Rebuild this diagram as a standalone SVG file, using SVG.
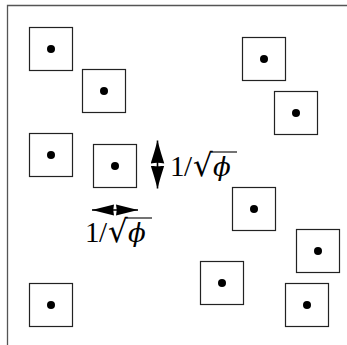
<svg xmlns="http://www.w3.org/2000/svg" width="347" height="345" viewBox="0 0 347 345">
<style>
.frame{fill:none;stroke:#555;stroke-width:1.3}
.box rect{fill:#fff;stroke:#222;stroke-width:1.2}
.box circle{fill:#000}
.arr{stroke:#000;stroke-width:1.6;fill:none}
.v{marker-start:url(#headv);marker-end:url(#headv)}
.h{marker-start:url(#headh);marker-end:url(#headh)}
.lbl{font-family:"Liberation Serif","DejaVu Serif",serif;font-size:29px;fill:#000}
.rad{font-family:"DejaVu Serif",serif;font-size:31px}
.phi{font-family:"DejaVu Serif",serif;font-style:italic;font-size:26px}
.bar{stroke:#000;stroke-width:1.1}
</style>
<defs>
<marker id="headv" viewBox="0 -7 23 14" refX="23" refY="0" markerWidth="23" markerHeight="14" markerUnits="userSpaceOnUse" orient="auto-start-reverse">
<path d="M0,-6.8 Q10,-3.5 23,0 Q10,3.5 0,6.8 Q1.5,0 0,-6.8 Z" fill="#000"/>
</marker>
<marker id="headh" viewBox="0 -6 22 12" refX="22" refY="0" markerWidth="22" markerHeight="12" markerUnits="userSpaceOnUse" orient="auto-start-reverse">
<path d="M0,-5.5 Q10,-3 22,0 Q10,3 0,5.5 Q1.5,0 0,-5.5 Z" fill="#000"/>
</marker>
</defs>
<path class="frame" d="M7.5,345 V5.5 H347"/>
<g id="n1" class="box"><rect x="29.5" y="27.5" width="43" height="43"/><circle cx="51" cy="49" r="4"/></g>
<g id="n2" class="box"><rect x="82.5" y="69.5" width="43" height="43"/><circle cx="104" cy="91" r="4"/></g>
<g id="n3" class="box"><rect x="242.5" y="37.5" width="43" height="43"/><circle cx="264" cy="59" r="4"/></g>
<g id="n4" class="box"><rect x="274.5" y="91.5" width="43" height="43"/><circle cx="296" cy="113" r="4"/></g>
<g id="n5" class="box"><rect x="29.5" y="133.5" width="43" height="43"/><circle cx="51" cy="155" r="4"/></g>
<g id="n6" class="box"><rect x="93.5" y="144.5" width="43" height="43"/><circle cx="115" cy="166" r="4"/></g>
<g id="n7" class="box"><rect x="232.5" y="187.5" width="43" height="43"/><circle cx="254" cy="209" r="4"/></g>
<g id="n8" class="box"><rect x="296.5" y="229.5" width="43" height="43"/><circle cx="318" cy="251" r="4"/></g>
<g id="n9" class="box"><rect x="200.5" y="261.5" width="43" height="43"/><circle cx="222" cy="283" r="4"/></g>
<g id="n10" class="box"><rect x="285.5" y="283.5" width="43" height="43"/><circle cx="307" cy="305" r="4"/></g>
<g id="n11" class="box"><rect x="29.5" y="283.5" width="43" height="43"/><circle cx="51" cy="305" r="4"/></g>
<g id="connectors">
<line class="arr v" x1="157.5" y1="140.5" x2="157.5" y2="188.5"/>
<line class="arr h" x1="92" y1="210" x2="138" y2="210"/>
</g>
<g id="label-v">
<text class="lbl" y="176"><tspan x="170">1</tspan><tspan x="184">/</tspan><tspan class="rad" x="193">√</tspan><tspan class="phi" x="213">ϕ</tspan></text>
<line class="bar" x1="211" y1="152" x2="237" y2="152"/>
</g>
<g id="label-h">
<text class="lbl" y="242"><tspan x="85">1</tspan><tspan x="99">/</tspan><tspan class="rad" x="108">√</tspan><tspan class="phi" x="128">ϕ</tspan></text>
<line class="bar" x1="126" y1="218" x2="152" y2="218"/>
</g>
</svg>
